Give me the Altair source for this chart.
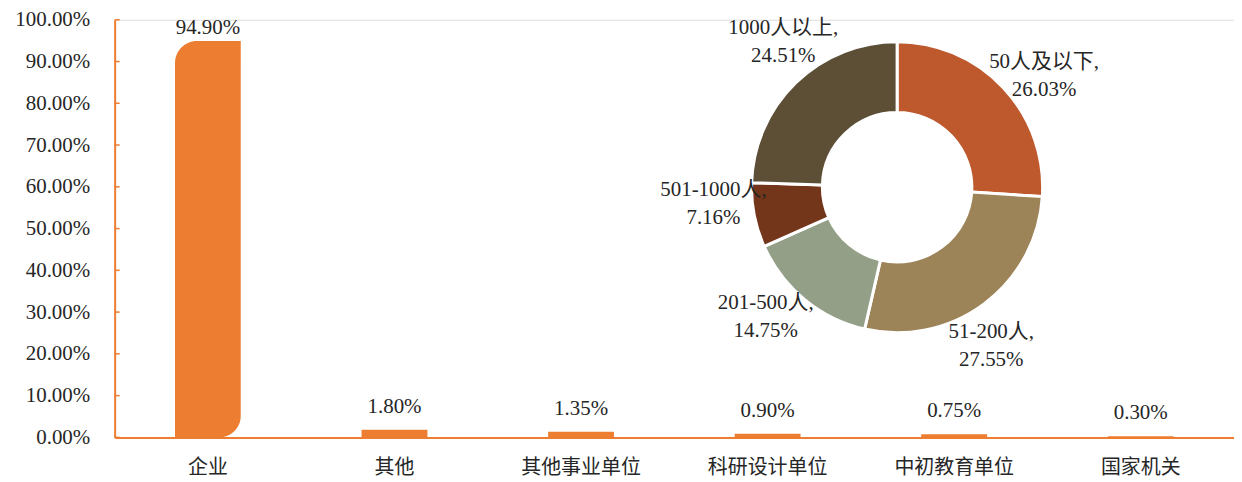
import math
import altair as alt
import pandas as pd

# ---- data ----
categories = ["企业", "其他", "其他事业单位", "科研设计单位", "中初教育单位", "国家机关"]
values = [94.90, 1.80, 1.35, 0.90, 0.75, 0.30]

size_groups = ["50人及以下", "51-200人", "201-500人", "501-1000人", "1000人以上"]
size_shares = [26.03, 27.55, 14.75, 7.16, 24.51]

y_ticks = [0, 10, 20, 30, 40, 50, 60, 70, 80, 90, 100]

# ---- styles ----
FONT = "Liberation Serif, Noto Sans CJK SC"
ORANGE = "#ED7D31"
TEXT = "#262626"
PIE_COLORS = ["#BD592D", "#9C8358", "#949F87", "#74361A", "#5C4F36"]
LABEL_ROT = math.radians(6)

bars_df = pd.DataFrame({
    "cat": categories,
    "val": values,
    "idx": list(range(len(categories))),
    "label": [f"{v:.2f}%" for v in values],
})
ticks_df = pd.DataFrame({"val": y_ticks})
pie_df = pd.DataFrame({
    "name": size_groups,
    "share": size_shares,
    "order": list(range(len(size_groups))),
    "label": [f"{n},\n{s:.2f}%" for n, s in zip(size_groups, size_shares)],
})

x_enc = alt.X(
    "cat:N", sort=categories,
    scale=alt.Scale(paddingInner=0.647, paddingOuter=0.3235),
    axis=alt.Axis(title=None, labelAngle=0, ticks=False, domainColor=ORANGE,
                  domainWidth=2, labelFont=FONT, labelFontSize=20,
                  labelColor=TEXT, labelPadding=20),
)
y_enc = alt.Y(
    "val:Q",
    scale=alt.Scale(domain=[0, 100], nice=False),
    axis=alt.Axis(title=None, values=y_ticks, grid=False, ticks=False,
                  labelExpr="format(datum.value, '.2f') + '%'",
                  domainColor=ORANGE, domainWidth=2, labelFont=FONT,
                  labelFontSize=21, labelColor=TEXT, labelPadding=25),
)

base = alt.Chart(bars_df)
big_bar = base.transform_filter("datum.idx == 0").mark_bar(
    color=ORANGE, cornerRadiusTopLeft=22, cornerRadiusBottomRight=22
).encode(x=x_enc, y=y_enc)
small_bars = base.transform_filter("datum.idx > 0").mark_bar(color=ORANGE).encode(
    x=x_enc, y=y_enc)
big_label = base.transform_filter("datum.idx == 0").mark_text(
    font=FONT, fontSize=21, color=TEXT, baseline="alphabetic", dy=-7
).encode(x=x_enc, y=y_enc, text="label:N")
small_labels = base.transform_filter("datum.idx > 0").mark_text(
    font=FONT, fontSize=21, color=TEXT, baseline="alphabetic", dy=-17
).encode(x=x_enc, y=y_enc, text="label:N")

tick_marks = alt.Chart(ticks_df).mark_rule(color=ORANGE, strokeWidth=1.5).encode(
    y=y_enc, x=alt.value(0), x2=alt.value(5))

CX, CY = 785, 168
arc = alt.Chart(pie_df).mark_arc(
    radius=146, radius2=75, stroke="white", strokeWidth=3
).encode(
    theta=alt.Theta("share:Q", stack=True),
    color=alt.Color("name:N", scale=alt.Scale(domain=size_groups, range=PIE_COLORS), legend=None),
    order=alt.Order("order:Q"),
    x=alt.value(CX), y=alt.value(CY),
)
pie_labels = alt.Chart(pie_df).mark_text(
    radius=185, font=FONT, fontSize=21, color=TEXT, lineBreak="\n",
    lineHeight=28, align="center", baseline="middle", dy=-14
).encode(
    theta=alt.Theta("share:Q", stack=True,
                    scale=alt.Scale(range=[LABEL_ROT, 2 * math.pi + LABEL_ROT])),
    order=alt.Order("order:Q"),
    text="label:N",
    x=alt.value(CX), y=alt.value(CY),
)

chart = alt.layer(
    big_bar, small_bars, big_label, small_labels, tick_marks, arc, pie_labels
).resolve_scale(theta="independent").properties(
    width=1123, height=419,
    autosize=alt.AutoSizeParams(type="none"),
    padding={"left": 107, "top": 11, "right": 0, "bottom": 52},
).configure_view(stroke=None).configure(background="white")

chart.save("out.html", embed_options={"renderer": "svg", "actions": False})
